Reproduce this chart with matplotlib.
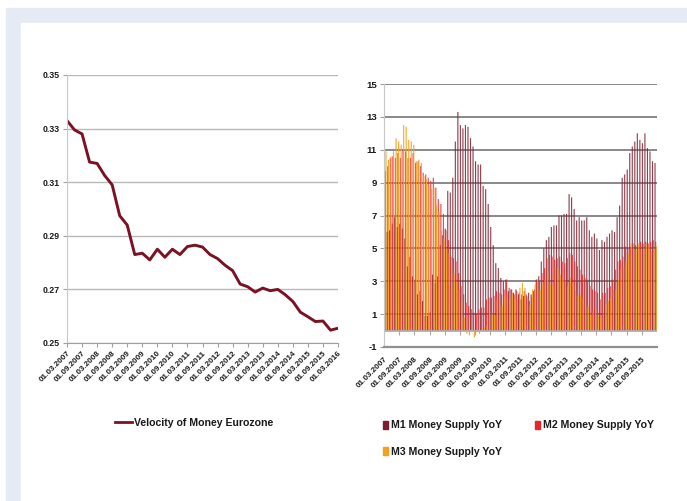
import numpy as np
import matplotlib.pyplot as plt
from matplotlib.patches import Rectangle
from matplotlib.lines import Line2D

plt.rcParams['font.family'] = ['Liberation Sans', 'DejaVu Sans']
plt.rcParams['axes.unicode_minus'] = False

# quarterly velocity of money, 03.2007 .. 03.2016
velocity = [0.333, 0.3295, 0.328, 0.3175, 0.317, 0.3125, 0.309, 0.2975, 0.294,
            0.283, 0.2835, 0.281, 0.285, 0.282, 0.285, 0.283, 0.286, 0.2865,
            0.2858, 0.283, 0.2815, 0.279, 0.277, 0.272, 0.271, 0.269, 0.2705,
            0.2695, 0.270, 0.268, 0.2655, 0.2615, 0.2598, 0.258, 0.2582, 0.2548,
            0.2555]

# monthly YoY growth, 03.2007 .. 02.2016
m1 = [7.5, 6.0, 6.1, 6.5, 6.9, 6.3, 6.5, 6.2, 5.6, 3.9,
      4.5, 3.3, 3.1, 2.2, 2.4, 1.8, 0.9, 0.9, 1.1, 3.4, 2.9, 3.3,
      5.2, 5.8, 6.2, 8.5, 8.4, 9.3, 11.5, 13.3, 12.5, 12.3, 12.5, 12.4,
      11.7, 11.2, 10.3, 10.1, 10.1, 8.8, 8.6, 7.7, 6.3, 5.2, 4.1, 3.8,
      3.2, 3.0, 3.1, 2.4, 2.5, 2.3, 2.5, 2.2, 1.9, 2.1, 2.2, 2.3,
      2.2, 2.4, 3.1, 3.3, 4.2, 5.0, 5.5, 5.7, 6.3, 6.4, 6.4, 7.0,
      7.0, 7.1, 7.1, 8.3, 8.1, 7.4, 6.7, 6.9, 6.7, 6.7, 6.9, 6.1,
      5.7, 5.9, 5.6, 4.9, 5.5, 5.4, 5.7, 5.9, 6.1, 6.0, 6.9, 7.6,
      9.3, 9.5, 9.8, 10.8, 11.2, 11.5, 12.0, 11.6, 11.4, 12.0, 11.1, 10.9,
      10.3, 10.2]
m2 = [9.7, 10.0, 10.5, 10.6, 10.5, 10.8, 10.5, 11.0, 10.9, 10.5,
      10.5, 10.8, 10.2, 10.3, 10.0, 9.6, 9.5, 9.3, 9.1, 9.3, 8.7, 8.0,
      7.7, 7.1, 6.1, 5.5, 4.5, 4.4, 4.2, 3.5, 2.7, 2.2, 1.7, 1.5,
      1.3, 1.1, 1.0, 1.3, 1.4, 1.4, 1.9, 2.0, 2.0, 2.1, 2.4, 2.3,
      2.2, 2.5, 3.1, 2.6, 2.5, 2.2, 2.4, 2.3, 2.2, 2.4, 2.1, 1.8,
      2.0, 2.5, 3.1, 3.0, 3.5, 3.8, 4.4, 4.6, 4.5, 4.3, 4.4, 4.5,
      4.2, 4.1, 4.4, 4.7, 4.6, 4.2, 3.9, 3.7, 3.4, 3.2, 3.1, 2.7,
      2.5, 2.4, 2.3, 1.9, 2.3, 2.3, 2.6, 2.7, 3.1, 3.7, 4.2, 4.3,
      4.5, 5.1, 5.0, 5.1, 5.3, 5.2, 5.1, 5.4, 5.3, 5.4, 5.3, 5.4,
      5.5, 5.4]
m3 = [10.9, 10.4, 10.6, 10.9, 11.7, 11.5, 11.3, 12.5, 12.4, 11.6,
      11.5, 11.3, 10.3, 10.4, 10.2, 9.4, 9.2, 8.8, 8.6, 8.7, 7.6, 7.2,
      6.1, 5.6, 5.0, 4.7, 3.9, 3.5, 3.0, 2.5, 1.8, 0.8, -0.2, -0.3,
      0.1, -0.4, -0.1, -0.2, 0.0, 0.2, 0.3, 1.1, 1.0, 0.9, 1.9, 1.6,
      1.5, 2.0, 2.2, 1.9, 2.3, 1.9, 1.9, 2.6, 2.9, 2.6, 2.0, 1.5,
      2.5, 2.8, 3.1, 2.5, 2.8, 3.1, 3.6, 2.9, 2.7, 3.9, 3.8, 3.4,
      3.1, 3.0, 2.7, 3.2, 2.9, 2.4, 2.1, 2.2, 2.0, 1.4, 1.5, 1.0,
      1.2, 1.3, 0.9, 0.75, 1.0, 1.6, 1.8, 2.0, 2.5, 2.5, 3.1, 3.7,
      3.9, 4.2, 4.7, 5.3, 5.0, 4.9, 5.3, 4.9, 5.0, 5.3, 5.1, 4.8,
      5.0, 5.1]

date_labels = ["01.03.2007", "01.09.2007", "01.03.2008", "01.09.2008",
               "01.03.2009", "01.09.2009", "01.03.2010", "01.09.2010",
               "01.03.2011", "01.09.2011", "01.03.2012", "01.09.2012",
               "01.03.2013", "01.09.2013", "01.03.2014", "01.09.2014",
               "01.03.2015", "01.09.2015", "01.03.2016"]

c_vel = "#7a1224"
c_m1 = "#7f1d2d"
c_m2 = "#e8262a"
c_m3 = "#f6a01a"
txt = "#1a1a1a"

W, H = 687, 501
fig = plt.figure(figsize=(W / 100, H / 100), dpi=100)
fig.patches.append(Rectangle((6 / W, 0), 1, 1 - 8 / H, transform=fig.transFigure,
                             color="#e6eaf5", zorder=-10))
fig.patches.append(Rectangle((21 / W, 0), 1, 1 - 23 / H, transform=fig.transFigure,
                             color="white", zorder=-9))

def px_axes(l, t, r, b):
    return fig.add_axes([l / W, 1 - b / H, (r - l) / W, (b - t) / H])

# left: velocity line
ax1 = px_axes(67, 75, 338, 343)
ax1.patch.set_alpha(0)
q_months = np.arange(len(velocity)) * 3
ax1.plot(q_months, velocity, color=c_vel, lw=2.1, solid_joinstyle="round")
ax1.set_xlim(0, 108)
ax1.set_ylim(0.25, 0.35)
ax1.set_yticks(np.arange(0.25, 0.351, 0.02))
ax1.set_yticklabels([f"{v:.2f}" for v in np.arange(0.25, 0.351, 0.02)])
ax1.set_xticks(np.arange(0, 109, 6))
ax1.set_xticklabels(date_labels, rotation=45, ha="right", va="top",
                    rotation_mode="anchor")
ax1.yaxis.grid(True, color="#b8b8b8", lw=1)
ax1.set_axisbelow(True)
for s in ["top", "right"]:
    ax1.spines[s].set_visible(False)
ax1.spines["left"].set_color("#c8c8c8")
ax1.spines["bottom"].set_color("#a0a0a0")
ax1.tick_params(axis="y", colors="#a0a0a0", labelcolor=txt, length=3,
                labelsize=6.3, pad=2)
ax1.tick_params(axis="x", colors="#a0a0a0", labelcolor=txt, length=3,
                labelsize=5.8, pad=2)
for lab in ax1.get_xticklabels() + ax1.get_yticklabels():
    lab.set_fontweight("bold")

ax1.legend([Line2D([], [], color=c_vel, lw=2)], ["Velocity of Money Eurozone"],
           loc="center left", bbox_to_anchor=(105 / W, 1 - 423 / H),
           bbox_transform=fig.transFigure, frameon=False, handlelength=1.7,
           handletextpad=0.15, prop={"size": 7.6, "weight": "bold"},
           labelcolor=txt)

# right: money supply bars, clustered with overlap, unsnapped so they blend
ax2 = px_axes(384, 84, 657, 347)
ax2.patch.set_alpha(0)
x = np.arange(len(m1)) + 0.5
bw = 0.45
ax2.bar(x - 0.28, m1, width=bw, color=c_m1, lw=0, snap=False, alpha=0.85)
ax2.bar(x, m2, width=bw, color=c_m2, lw=0, snap=False, alpha=0.85)
ax2.bar(x + 0.28, m3, width=bw, color=c_m3, lw=0, snap=False, alpha=0.9)
ax2.set_xlim(0, len(m1))
ax2.set_ylim(-1, 15)
ax2.set_yticks(np.arange(-1, 16, 2))
ticks2 = np.arange(0, len(m1), 6)
ax2.set_xticks(ticks2)
ax2.set_xticklabels(date_labels[:len(ticks2)], rotation=45, ha="right", va="top",
                    rotation_mode="anchor")
ax2.yaxis.grid(True, color="#808080", lw=1.3)
ax2.set_axisbelow(True)
ax2.axhline(0, color="#a8a8a8", lw=1.2)
ax2.vlines(ticks2, -0.25, 0, color="#a8a8a8", lw=0.8)
for s in ["top", "right"]:
    ax2.spines[s].set_visible(False)
ax2.spines["left"].set_color("#c8c8c8")
ax2.spines["bottom"].set_color("#909090")
ax2.spines["bottom"].set_linewidth(1.6)
ax2.tick_params(axis="y", colors="#a0a0a0", labelcolor=txt, length=3,
                labelsize=6.8, pad=2)
ax2.tick_params(axis="x", length=0, labelcolor=txt, labelsize=5.8, pad=6)
for lab in ax2.get_xticklabels() + ax2.get_yticklabels():
    lab.set_fontweight("bold")

handles = [Rectangle((0, 0), 1, 1, color=c) for c in (c_m1, c_m3, c_m2)]
names = ["M1 Money Supply YoY", "M3 Money Supply YoY", "M2 Money Supply YoY"]
ax2.legend(handles, names, ncol=2, loc="upper left",
           bbox_to_anchor=(373 / W, 1 - 411 / H), bbox_transform=fig.transFigure,
           frameon=False, handlelength=0.5, handleheight=0.8, handletextpad=0.3,
           columnspacing=3.1, labelspacing=1.55,
           prop={"size": 7.6, "weight": "bold"}, labelcolor=txt)

fig.savefig("out.png", dpi=100)
